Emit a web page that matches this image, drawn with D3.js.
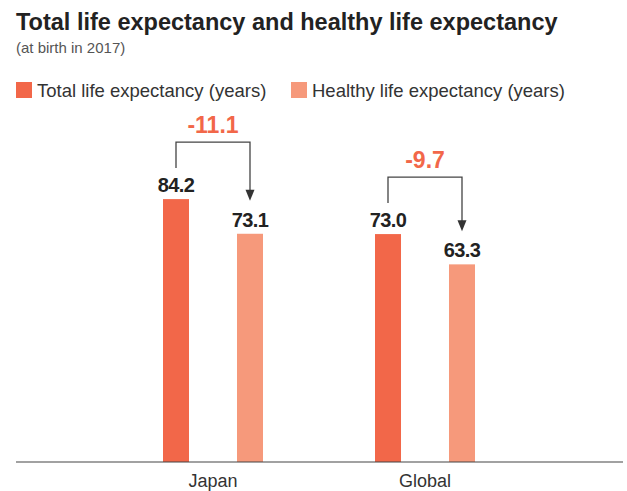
<!DOCTYPE html>
<html>
<head>
<meta charset="utf-8">
<script src="https://cdn.jsdelivr.net/npm/d3@7"></script>
<style>
  body { margin: 0; background: #fff; }
  svg { font-family: "Liberation Sans", Arial, Helvetica, sans-serif; }
</style>
</head>
<body>
<svg width="627" height="491"></svg>
<script>
const countries = ["Japan", "Global"];
const series = ["Total life expectancy (years)", "Healthy life expectancy (years)"];
const totalValues = [84.2, 73.0];
const healthyValues = [73.1, 63.3];
const diffLabels = ["-11.1", "-9.7"];
const colors = ["#f26749", "#f6997b"];

const data = countries.map((c, i) => ({
    country: c,
    values: [totalValues[i], healthyValues[i]],
    diff: diffLabels[i]
}));

const svg = d3.select("svg");

// title
svg.append("text")
    .attr("x", 16).attr("y", 30)
    .attr("font-size", 23.5).attr("font-weight", "bold")
    .attr("fill", "#222")
    .text("Total life expectancy and healthy life expectancy");

svg.append("text")
    .attr("x", 16).attr("y", 53)
    .attr("font-size", 15).attr("fill", "#555")
    .text("(at birth in 2017)");

// legend
const legendX = [16, 291];
const legend = svg.append("g");
series.forEach((s, i) => {
    legend.append("rect")
        .attr("x", legendX[i]).attr("y", 82)
        .attr("width", 16).attr("height", 16)
        .attr("fill", colors[i]);
    legend.append("text")
        .attr("x", legendX[i] + 21).attr("y", 97)
        .attr("font-size", 18.5).attr("fill", "#333")
        .text(s);
});

const baseY = 462;

const x = d3.scaleBand()
    .domain(countries)
    .range([107, 531]);

const xInner = d3.scaleBand()
    .domain(d3.range(series.length))
    .range([-50, 50])
    .paddingInner(0.6486)
    .paddingOuter(0);

const y = d3.scaleLinear()
    .domain([0, 90])
    .range([baseY, 181]);

const groups = svg.append("g")
    .selectAll("g")
    .data(data)
    .join("g")
    .attr("transform", d => `translate(${x(d.country) + x.bandwidth() / 2},0)`);

groups.selectAll("rect")
    .data(d => d.values)
    .join("rect")
    .attr("x", (v, i) => xInner(i))
    .attr("y", v => y(v))
    .attr("width", xInner.bandwidth())
    .attr("height", v => baseY - y(v))
    .attr("fill", (v, i) => colors[i]);

groups.selectAll("text.val")
    .data(d => d.values)
    .join("text")
    .attr("class", "val")
    .attr("x", (v, i) => xInner(i) + xInner.bandwidth() / 2)
    .attr("y", v => y(v) - 7)
    .attr("text-anchor", "middle")
    .attr("font-size", 20).attr("font-weight", "bold")
    .attr("letter-spacing", -0.6)
    .attr("fill", "#222")
    .text(v => v.toFixed(1));

// brackets with arrows
const cx0 = xInner(0) + xInner.bandwidth() / 2;
const cx1 = xInner(1) + xInner.bandwidth() / 2;

groups.append("path")
    .attr("fill", "none")
    .attr("stroke", "#444")
    .attr("stroke-width", 1.3)
    .attr("d", d => {
        const top = y(d.values[0]) - 57;
        return `M${cx0},${y(d.values[0]) - 31}V${top}H${cx1}V${y(d.values[1]) - 40}`;
    });

groups.append("path")
    .attr("fill", "#333")
    .attr("d", d => {
        const tip = y(d.values[1]) - 33;
        return `M${cx1 - 4.5},${tip - 11}L${cx1 + 4.5},${tip - 11}L${cx1},${tip}Z`;
    });

groups.append("text")
    .attr("x", (cx0 + cx1) / 2)
    .attr("y", d => y(d.values[0]) - 66)
    .attr("text-anchor", "middle")
    .attr("font-size", 23).attr("font-weight", "bold")
    .attr("fill", "#f26749")
    .text(d => d.diff);

// baseline + category labels
const axis = svg.append("g")
    .attr("transform", `translate(0,${baseY})`)
    .call(d3.axisBottom(x).tickSize(0).tickPadding(12));
axis.select(".domain").remove();
axis.append("line")
    .attr("x1", 16).attr("x2", 623)
    .attr("stroke", "#444").attr("stroke-width", 1.2);
axis.selectAll(".tick text")
    .attr("font-size", 18)
    .attr("font-family", "Liberation Sans, Arial, sans-serif")
    .attr("fill", "#333");
</script>
</body>
</html>
